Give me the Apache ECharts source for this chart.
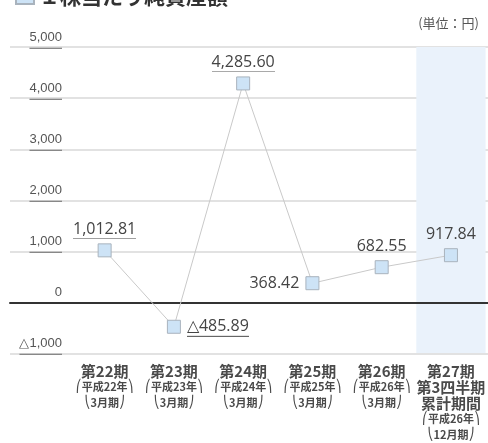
<!DOCTYPE html>
<html><head><meta charset="utf-8">
<script src="https://cdn.jsdelivr.net/npm/echarts@6/dist/echarts.min.js"></script>
<style>html,body{margin:0;padding:0;background:#fff}#c{width:488px;height:443px}</style>
</head><body><div id="c"></div>
<script>
const titleText = '１株当たり純資産額';
const unitText = '(単位：円)';
const periods = ['第22期','第23期','第24期','第25期','第26期','第27期'];
const extraLines = ['','','','','','第3四半期\n累計期間'];
const eraYears = ['平成22年','平成23年','平成24年','平成25年','平成26年','平成26年'];
const months = ['3月期','3月期','3月期','3月期','3月期','12月期'];
const values = [1012.81, -485.89, 4285.60, 368.42, 682.55, 917.84];
const labelPos = ['top','right','top','left','top','top'];
const underlined = [true, true, true, false, false, false];

function underlineImg(color, h){
  const c = document.createElement('canvas'); c.width = 8; c.height = h;
  const g = c.getContext('2d'); g.fillStyle = color; g.fillRect(0, h - 1, 8, 1);
  return c;
}
const ulDark = underlineImg('#666', 20);
const ulLight = underlineImg('#888', 15);

function fmt(v){
  const s = Math.abs(v).toLocaleString('en-US',{minimumFractionDigits:2, maximumFractionDigits:2});
  return (v < 0 ? '△' : '') + s;
}
function fmtTick(v){
  const s = Math.abs(v).toLocaleString('en-US');
  return (v < 0 ? '△' : '') + s;
}

const categories = periods.map((p,i)=>{
  let s = '{p|' + p + '}';
  if (extraLines[i]) s += '\n' + extraLines[i].split('\n').map(t=>'{p|'+t+'}').join('\n');
  s += '\n{b|⎛}{n|' + eraYears[i] + '}{b|⎞}\n{b|⎝}{n|' + months[i] + '}{b|⎠}';
  return s;
});

const seriesData = values.map((v,i)=>({
  value: v,
  label: {
    show: true,
    position: labelPos[i],
    distance: labelPos[i]==='top' ? 4 : 6,
    formatter: underlined[i] ? '{u|' + fmt(v) + '}' : '{t|' + fmt(v) + '}'
  }
}));

const chart = echarts.init(document.getElementById('c'));
chart.setOption({
  animation: false,
  legend: {
    data: [{name: titleText, icon: 'rect'}],
    left: 10, top: -19, itemWidth: 18, itemHeight: 15, itemGap: 22,
    textStyle: {fontSize: 21, fontWeight: 'bold', color: '#333', fontFamily: 'Noto Sans CJK JP'},
    selectedMode: false
  },
  title: {
    text: unitText, right: 4, top: 12,
    textStyle: {fontSize: 13, fontWeight: 'normal', color: '#555', fontFamily: 'Noto Sans CJK JP'}
  },
  grid: [
    {left: 10, right: 0, top: 47, bottom: 89},
    {left: 70, width: 420, top: 47, bottom: 89}
  ],
  xAxis: [
    {gridIndex: 0, type: 'value', min: 0, max: 1, show: true,
     axisLine: {show: true, onZero: true, lineStyle: {color: '#333', width: 2}},
     axisTick: {show: false}, axisLabel: {show: false}, splitLine: {show: false}},
    {gridIndex: 1, type: 'category', data: categories,
     axisLine: {show: false}, axisTick: {show: false},
     splitArea: {show: true, interval: 0, areaStyle: {color: ['rgba(0,0,0,0)','rgba(0,0,0,0)','rgba(0,0,0,0)','rgba(0,0,0,0)','rgba(0,0,0,0)','#eaf2fb']}},
     axisLabel: {interval: 0, margin: 10, color: '#555', lineHeight: 16,
       rich: {
         p: {fontSize: 15, fontWeight: 'bold', color: '#4a4a4a', fontFamily: 'Noto Sans CJK JP', lineHeight: 16},
         n: {fontSize: 11, fontWeight: 'bold', color: '#4a4a4a', fontFamily: 'Noto Sans CJK JP', lineHeight: 16},
         b: {fontSize: 12, color: '#4a4a4a', fontFamily: 'DejaVu Sans', lineHeight: 16}
       }}}
  ],
  yAxis: [
    {gridIndex: 0, type: 'value', min: -1000, max: 5000, interval: 1000,
     axisLine: {show: false}, axisTick: {show: false}, axisLabel: {show: false},
     splitLine: {show: true, lineStyle: {color: '#e2e2e2', width: 2}}},
    {gridIndex: 1, type: 'value', min: -1000, max: 5000, interval: 1000,
     axisLine: {show: false}, axisTick: {show: false}, splitLine: {show: false},
     axisLabel: {margin: 8, verticalAlign: 'bottom', color: '#555',
       formatter: v => v === 0 ? '{z|0}' : '{u|' + fmtTick(v) + '}',
       rich: {
         u: {fontSize: 13, color: '#555', fontFamily: 'Liberation Sans', backgroundColor: {image: ulLight}, height: 15, lineHeight: 15, padding: [0,0,4,0]},
         z: {fontSize: 13, color: '#555', fontFamily: 'Liberation Sans', height: 15, lineHeight: 15, padding: [0,0,4,0]}
       }}}
  ],
  series: [{
    name: titleText, type: 'line', xAxisIndex: 1, yAxisIndex: 1,
    data: seriesData,
    symbol: 'rect', symbolSize: 13,
    itemStyle: {color: '#cde3f6', borderColor: '#a9b3bd', borderWidth: 1},
    lineStyle: {color: '#c9c9c9', width: 1},
    label: {fontSize: 16, color: '#444', fontFamily: 'Open Sans',
      rich: {
        u: {fontSize: 16, color: '#444', fontFamily: 'Open Sans', backgroundColor: {image: ulDark}, height: 20, lineHeight: 20},
        t: {fontSize: 16, color: '#444', fontFamily: 'Open Sans', height: 20, lineHeight: 20}
      }}
  }]
});
</script></body></html>
